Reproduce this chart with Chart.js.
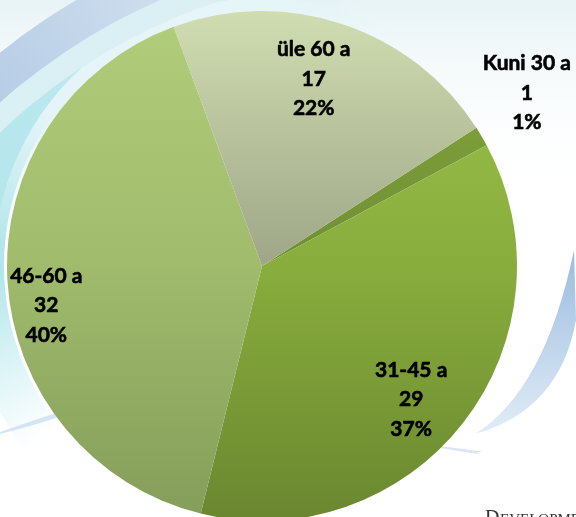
<!DOCTYPE html>
<html>
<head>
<meta charset="utf-8">
<script src="https://cdn.jsdelivr.net/npm/chart.js@4.4.0/dist/chart.umd.min.js"></script>
<style>
  html, body { margin: 0; padding: 0; overflow: hidden; background: #fff; }
  #wrap { position: absolute; left: 0; top: 0; width: 576px; height: 530px; }
</style>
</head>
<body>
<div id="wrap"><canvas id="chart"></canvas></div>
<script>
const categories = ["Kuni 30 a", "31-45 a", "46-60 a", "üle 60 a"]
const counts = [1, 29, 32, 17]
const percents = [1, 37, 40, 22]

// top / middle / bottom shade of each slice's vertical gradient
const sliceShades = [
  ["#88aa40", "#6f8e33", "#587228"],
  ["#9cc34b", "#89ad3d", "#6a8730"],
  ["#b1ce7b", "#a0bb6c", "#849d5a"],
  ["#d0ddb1", "#9ea687", "#7c826a"]
]
// label spot per slice: fraction of radius, angle shift in degrees
const labelSpots = [[1.24, -2.6], [0.785, 4], [0.86, -7.2], [0.76, -3]]

function ring(ctx, cx, cy, r1, r2, style) {
  ctx.beginPath()
  ctx.arc(cx, cy, r2, 0, Math.PI * 2)
  ctx.arc(cx, cy, r1, 0, Math.PI * 2, true)
  ctx.fillStyle = style
  ctx.fill()
}

function conic(ctx, cx, cy, stops) {
  const g = ctx.createConicGradient(0, cx, cy)
  stops.forEach(([at, c]) => g.addColorStop(at / 360, c))
  return g
}

const backdrop = {
  id: "backdrop",
  beforeDraw(chart) {
    const { ctx, width, height } = chart
    const cx = 262, cy = 266
    ctx.save()
    ctx.fillStyle = "#fff"
    ctx.fillRect(0, 0, width, height)

    let g = ctx.createLinearGradient(0, 0, 0, 200)
    g.addColorStop(0, "#e8f3f6")
    g.addColorStop(1, "rgba(255,255,255,0)")
    ctx.fillStyle = g
    ctx.fillRect(0, 0, width, 200)

    // cyan band hugging the pie
    ring(ctx, cx, cy, 258, 300, conic(ctx, cx, cy, [[142, "rgba(180,231,237,0)"], [178, "#b3e6ec"], [215, "#b8e7ed"], [250, "#cdeef2"], [290, "rgba(215,240,244,0)"]]))
    // pale rim next to the pie edge
    ring(ctx, cx, cy, 255, 268, conic(ctx, cx, cy, [[185, "rgba(230,245,248,0)"], [215, "#e4f4f8"], [270, "#e6f5f8"], [300, "rgba(230,245,248,0)"]]))

    // big outer sweep (light band + blue band)
    const bx = 397, by = 547
    ring(ctx, bx, by, 574, 596, conic(ctx, bx, by, [[190, "rgba(216,240,244,0)"], [205, "#d6eff3"], [250, "#dcf0f4"], [270, "rgba(220,240,244,0)"]]))
    ring(ctx, bx, by, 596, 634, conic(ctx, bx, by, [[195, "rgba(160,190,224,0)"], [208, "#9dbce0"], [228, "#b6cde6"], [248, "#d0dfee"], [265, "rgba(220,232,242,0)"]]))

    // faint streaks
    ctx.fillStyle = "rgba(200,218,236,0.7)"
    ctx.beginPath(); ctx.moveTo(0, 432); ctx.quadraticCurveTo(40, 418, 80, 405); ctx.lineTo(80, 410); ctx.quadraticCurveTo(40, 424, 0, 434); ctx.fill()
    ctx.beginPath(); ctx.moveTo(440, 446); ctx.quadraticCurveTo(510, 455, 576, 466); ctx.lineTo(576, 470); ctx.quadraticCurveTo(510, 459, 440, 448); ctx.fill()

    // right swoosh
    g = ctx.createLinearGradient(0, 250, 0, 435)
    g.addColorStop(0, "#9abbdf")
    g.addColorStop(1, "#e2edf7")
    ctx.fillStyle = g
    ctx.beginPath()
    ctx.moveTo(574, 250)
    ctx.quadraticCurveTo(545, 390, 475, 434)
    ctx.quadraticCurveTo(560, 410, 576, 320)
    ctx.closePath()
    ctx.fill()

    ctx.fillStyle = "#fff"
    ctx.fillRect(478, 452, 98, 80)
    ctx.fillStyle = "#333"
    ctx.textBaseline = "alphabetic"
    ctx.font = "20px 'Liberation Serif'"
    ctx.fillText("D", 485, 524)
    ctx.font = "15px 'Liberation Serif'"
    ctx.fillText("EVELOPMENT", 500, 524)
    ctx.restore()
  }
}

const sliceLabels = {
  id: "sliceLabels",
  afterDatasetsDraw(chart) {
    const { ctx } = chart
    const meta = chart.getDatasetMeta(0)
    ctx.save()
    ctx.font = "bold 21px Lato"
    ctx.fillStyle = "#000"
    ctx.strokeStyle = "#000"
    ctx.lineWidth = 0.6
    ctx.textAlign = "center"
    ctx.textBaseline = "middle"
    meta.data.forEach((arc, i) => {
      const { x, y, startAngle, endAngle, outerRadius } =
        arc.getProps(["x", "y", "startAngle", "endAngle", "outerRadius"], true)
      const [f, shift] = labelSpots[i]
      const a = (startAngle + endAngle) / 2 + shift * Math.PI / 180
      const lx = x + Math.cos(a) * outerRadius * f
      const ly = y + Math.sin(a) * outerRadius * f
      const lines = [categories[i], String(counts[i]), percents[i] + "%"]
      lines.forEach((t, k) => {
        ctx.fillText(t, lx, ly + (k - 1) * 29.5)
        ctx.strokeText(t, lx, ly + (k - 1) * 29.5)
      })
    })
    ctx.restore()
  }
}

function sliceFill(context) {
  const area = context.chart.chartArea
  if (!area) return sliceShades[context.dataIndex][1]
  const shades = sliceShades[context.dataIndex]
  const g = context.chart.ctx.createLinearGradient(0, area.top, 0, area.bottom)
  g.addColorStop(0, shades[0])
  g.addColorStop(0.5, shades[1])
  g.addColorStop(1, shades[2])
  return g
}

new Chart(document.getElementById("chart"), {
  type: "pie",
  data: {
    labels: categories,
    datasets: [{ data: counts, backgroundColor: sliceFill, borderWidth: 0, hoverOffset: 0 }]
  },
  options: {
    responsive: true,
    maintainAspectRatio: false,
    animation: false,
    rotation: 57.2,
    layout: { padding: { left: 7, right: 59, top: 11, bottom: 9 } },
    plugins: { legend: { display: false }, tooltip: { enabled: false } }
  },
  plugins: [backdrop, sliceLabels]
})
</script>
</body>
</html>
